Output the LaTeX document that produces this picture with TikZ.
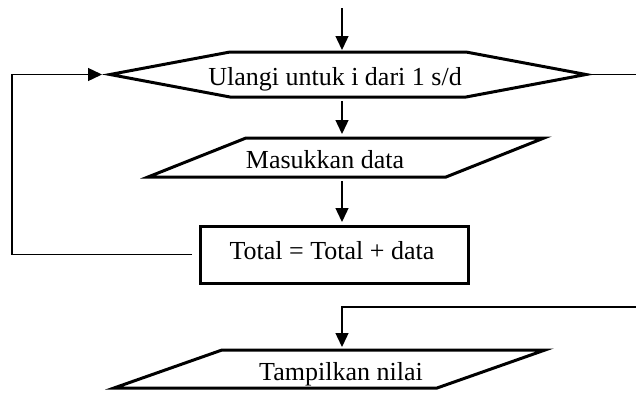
\documentclass[tikz,border=0pt]{standalone}
\usepackage{fontspec}
\setmainfont{Liberation Serif}
\usetikzlibrary{arrows.meta}

\begin{document}
\begin{tikzpicture}[x=1pt,y=-1pt,
    every node/.style={inner sep=0pt,outer sep=0pt},
    txt/.style={anchor=base,font=\fontsize{26}{30}\selectfont},
    outline/.style={line width=3pt},
    flow/.style={line width=1.4pt,-{Triangle[length=14pt,width=13pt]}},
    link/.style={line width=1.4pt}]

    \useasboundingbox (0,0) rectangle (636,394);

    % Fixed points: entry, left rail, right border
    \coordinate (start) at (342,8);
    \coordinate (rail) at (12,0);
    \coordinate (border) at (636,0);
    \coordinate (exit) at (636,307);

    %==================== Shapes ====================
    % Loop header (hexagon)
    \node[minimum width=236pt,minimum height=45pt] (loop) at (348,74.5) {};
    \coordinate (loopW) at ([xshift=-120pt]loop.west);
    \coordinate (loopE) at ([xshift=120pt]loop.east);
    \draw[outline] (loopW) -- (loop.north west) -- (loop.north east) -- (loopE)
      -- (loop.south east) -- (loop.south west) -- cycle;
    \node[txt] (loopT) at (335,85) {Ulangi untuk i dari 1 s/d};

    % Input (parallelogram)
    \node[minimum width=200pt,minimum height=39pt] (inp) at (346,157.5) {};
    \draw[outline] ([xshift=-98pt]inp.south west) -- (inp.north west)
      -- ([xshift=98pt]inp.north east) -- (inp.south east) -- cycle;
    \node[txt] (inpT) at (325,168) {Masukkan data};

    % Process (rectangle)
    \node[draw,outline,minimum width=268pt,minimum height=57pt] (tot) at (334,254.5) {};
    \node[txt] (totT) at (332,259) {Total = Total + data};

    % Output (parallelogram)
    \node[minimum width=215pt,minimum height=38pt] (outp) at (329.5,369) {};
    \draw[outline] ([xshift=-108pt]outp.south west) -- (outp.north west)
      -- ([xshift=108pt]outp.north east) -- (outp.south east) -- cycle;
    \node[txt] (outpT) at (341,380) {Tampilkan nilai};

    %==================== Connectors ====================
    % Entry arrow
    \draw[flow,shorten >=2pt] (start) -- (start |- loop.north);

    % Down arrows between the shapes
    \foreach \a/\b in {loop/inp,inp/tot} {
      \draw[flow,shorten <=4pt,shorten >=4pt] (start |- \a.south) -- (start |- \b.north);
    }

    % Loop back to the header
    \draw[flow] ([xshift=-8pt]tot.west) -| (rail |- loopW) -- ([xshift=-8pt]loopW);

    % Loop exit and arrow into the output
    \draw[link] (loopE) -- (loopE -| border);
    \draw[flow,shorten >=3pt] (exit) -| (start |- outp.north);

  \end{tikzpicture}
\end{document}
